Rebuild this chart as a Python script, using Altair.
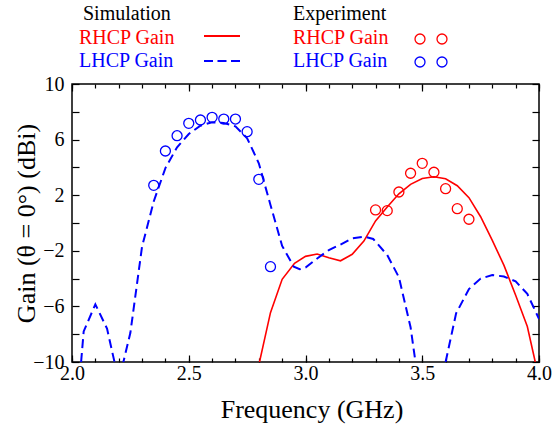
import altair as alt
import pandas as pd

FONT = "Liberation Serif"
RED = "#ff0000"
BLUE = "#0000ff"

# ---- data ----
lhcp_sim_f = [2.039, 2.05, 2.10, 2.15, 2.182, 2.20, 2.22, 2.25, 2.30, 2.35, 2.40, 2.45, 2.50,
              2.55, 2.60, 2.65, 2.70, 2.75, 2.80, 2.85, 2.90, 2.95, 2.975, 3.00, 3.05, 3.10,
              3.15, 3.20, 3.25, 3.29, 3.35, 3.40, 3.45, 3.471,
              3.60, 3.645, 3.70, 3.75, 3.80, 3.85, 3.90, 3.95, 4.00]
lhcp_sim_g = [-10.0, -7.8, -5.85, -7.6, -10.0, -11.3, -10.0, -7.9, -1.7, 1.55, 3.95, 5.45, 6.4,
              7.0, 7.25, 7.2, 6.95, 6.1, 4.3, 1.3, -1.65, -3.15, -3.33, -3.2, -2.55, -1.95,
              -1.55, -1.1, -0.98, -1.15, -2.3, -3.9, -7.5, -10.0,
              -10.0, -6.5, -4.75, -4.0, -3.74, -3.85, -4.2, -5.1, -6.9]
lhcp_sim_seg = [1] * 34 + [2] * 9

rhcp_sim_f = [2.803, 2.85, 2.90, 2.953, 3.00, 3.05, 3.10, 3.15, 3.20, 3.25, 3.30, 3.35, 3.40,
              3.45, 3.50, 3.55, 3.60, 3.65, 3.70, 3.75, 3.80, 3.85, 3.90, 3.95, 3.984]
rhcp_sim_g = [-10.0, -6.45, -4.05, -2.9, -2.4, -2.23, -2.5, -2.72, -2.25, -1.3, 0.15, 1.15, 2.1,
              2.78, 3.2, 3.33, 3.18, 2.68, 1.82, 0.45, -1.25, -3.05, -5.2, -7.45, -10.0]

rhcp_exp_f = [3.30, 3.35, 3.40, 3.45, 3.50, 3.55, 3.60, 3.65, 3.70]
rhcp_exp_g = [0.94, 0.89, 2.23, 3.58, 4.29, 3.65, 2.47, 1.03, 0.27]

lhcp_exp_f = [2.35, 2.40, 2.45, 2.50, 2.55, 2.60, 2.65, 2.70, 2.75, 2.80, 2.85]
lhcp_exp_g = [2.71, 5.18, 6.28, 7.17, 7.41, 7.60, 7.48, 7.48, 6.57, 3.14, -3.14]

x_major = [2.0, 2.5, 3.0, 3.5, 4.0]
x_minor = [round(2.0 + 0.1 * i, 1) for i in range(21)]
y_ticks = list(range(-10, 11, 2))

x_title = "Frequency (GHz)"
y_title = "Gain (\u03b8 = 0\u00b0) (dBi)"

lhcp_sim = pd.DataFrame({"f": lhcp_sim_f, "g": lhcp_sim_g, "seg": lhcp_sim_seg})
rhcp_sim = pd.DataFrame({"f": rhcp_sim_f, "g": rhcp_sim_g})
rhcp_exp = pd.DataFrame({"f": rhcp_exp_f, "g": rhcp_exp_g})
lhcp_exp = pd.DataFrame({"f": lhcp_exp_f, "g": lhcp_exp_g})

W, H = 467, 278
xscale = alt.Scale(domain=[2, 4], nice=False, zero=False)
yscale = alt.Scale(domain=[-10, 10], nice=False, zero=False)


def ax(**kw):
    base = dict(domain=False, grid=False, tickColor="black", tickWidth=1.2,
                labelFont=FONT, labelFontSize=20, labelColor="black",
                titleFont=FONT, titleFontSize=26, titleFontWeight="normal", titleColor="black")
    base.update(kw)
    return alt.Axis(**base)


x_bottom_major = ax(orient="bottom", values=x_major, format=".1f", tickSize=7, offset=-7,
                    labelPadding=1, labelFlush=False, labelOverlap=False,
                    title=x_title, titleX=W / 2 + 6, titleY=62, titleAlign="center",
                    titleBaseline="alphabetic")
x_bottom_minor = ax(orient="bottom", values=x_minor, tickSize=4, offset=-4, labels=False, title=None)
x_top_major = ax(orient="top", values=x_major, tickSize=7, offset=-7, labels=False, title=None)
x_top_minor = ax(orient="top", values=x_minor, tickSize=4, offset=-4, labels=False, title=None)

y_left = ax(orient="left", values=y_ticks, format="d", tickSize=7, offset=-7, labelPadding=8,
            labelExpr="abs(datum.value) % 4 == 2 ? datum.label : ''", labelOverlap=False,
            labelFlush=False, title=y_title, titleAngle=270, titleAlign="center",
            titleBaseline="alphabetic", titleX=-45, titleY=H / 2)
y_right = ax(orient="right", values=y_ticks, tickSize=7, offset=-7, labels=False, title=None)

rhcp_line = alt.Chart(rhcp_sim).mark_line(color=RED, strokeWidth=1.6, clip=True).encode(
    x=alt.X("f:Q", scale=xscale, axis=x_bottom_major),
    y=alt.Y("g:Q", scale=yscale, axis=y_left),
)
lhcp_line = alt.Chart(lhcp_sim).mark_line(color=BLUE, strokeWidth=2, strokeDash=[9, 5], clip=True).encode(
    x=alt.X("f:Q", scale=xscale, axis=x_bottom_minor),
    y=alt.Y("g:Q", scale=yscale, axis=y_right),
    detail="seg:N",
)
rhcp_pts = alt.Chart(rhcp_exp).mark_point(shape="circle", filled=False, color=RED, size=100,
                                          strokeWidth=1.3, opacity=1).encode(
    x=alt.X("f:Q", scale=xscale, axis=x_top_major),
    y=alt.Y("g:Q", scale=yscale, axis=None),
)
lhcp_pts = alt.Chart(lhcp_exp).mark_point(shape="circle", filled=False, color=BLUE, size=100,
                                          strokeWidth=1.3, opacity=1).encode(
    x=alt.X("f:Q", scale=xscale, axis=x_top_minor),
    y=alt.Y("g:Q", scale=yscale, axis=None),
)

one = alt.Data(values=[{}])


def label(text, color, x, y):
    return alt.Chart(one).mark_text(text=text, color=color, font=FONT, fontSize=20,
                                    align="left", baseline="alphabetic").encode(
        x=alt.value(x), y=alt.value(y))


def circle(color, x, y):
    return alt.Chart(one).mark_point(shape="circle", filled=False, color=color, size=100,
                                     strokeWidth=1.3, opacity=1).encode(x=alt.value(x), y=alt.value(y))


legend = [
    label("Simulation", "black", 11, -64),
    label("RHCP Gain", RED, 7, -40),
    label("LHCP Gain", BLUE, 7, -17),
    label("Experiment", "black", 221, -64),
    label("RHCP Gain", RED, 221, -40),
    label("LHCP Gain", BLUE, 221, -17),
    alt.Chart(one).mark_rule(color=RED, strokeWidth=2).encode(
        x=alt.value(132), x2=alt.value(168), y=alt.value(-48)),
    alt.Chart(one).mark_rule(color=BLUE, strokeWidth=2, strokeDash=[9, 4.5]).encode(
        x=alt.value(132), x2=alt.value(168), y=alt.value(-23)),
    circle(RED, 348, -45),
    circle(RED, 370, -45),
    circle(BLUE, 348, -22),
    circle(BLUE, 370, -22),
]

chart = alt.layer(rhcp_line, lhcp_line, rhcp_pts, lhcp_pts, *legend).resolve_scale(
    x="shared", y="shared"
).resolve_axis(
    x="independent", y="independent"
).properties(
    width=W, height=H,
    autosize=alt.AutoSizeParams(type="none"),
    padding={"left": 72, "top": 84, "right": 552 - 72 - W, "bottom": 424 - 84 - H},
    background="white",
).configure(font=FONT).configure_view(stroke="black", strokeWidth=1.5)

chart.save("out.html", embed_options={"renderer": "svg", "actions": False})
